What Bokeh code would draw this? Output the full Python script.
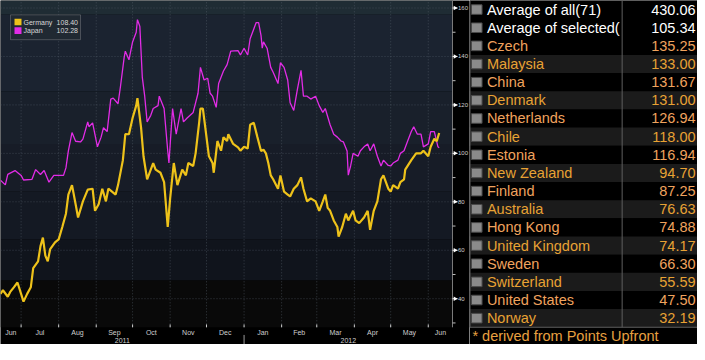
import math
import pandas as pd
from bokeh.plotting import figure
from bokeh.models import Range1d, BoxAnnotation, Label, ColumnDataSource
from bokeh.layouts import row
from bokeh.embed import file_html
from bokeh.resources import INLINE
from bokeh.core.properties import value

# ---------------- data ----------------
germany_dates = ["2011-06-14","2011-06-16","2011-06-20","2011-06-22","2011-06-25","2011-06-28","2011-07-01","2011-07-03","2011-07-06","2011-07-09",
                 "2011-07-11","2011-07-15","2011-07-17","2011-07-19","2011-07-21","2011-07-23","2011-07-25","2011-07-29","2011-08-01","2011-08-04",
                 "2011-08-07","2011-08-09","2011-08-12","2011-08-15","2011-08-17","2011-08-21","2011-08-25","2011-08-29","2011-08-31","2011-09-03",
                 "2011-09-06","2011-09-09","2011-09-11","2011-09-14","2011-09-17","2011-09-19","2011-09-23","2011-09-25","2011-09-28","2011-10-01",
                 "2011-10-04","2011-10-05","2011-10-08","2011-10-10","2011-10-13","2011-10-18","2011-10-20","2011-10-24","2011-10-27","2011-10-30",
                 "2011-11-01","2011-11-04","2011-11-07","2011-11-11","2011-11-14","2011-11-16","2011-11-20","2011-11-22","2011-11-25","2011-11-26",
                 "2011-11-28","2011-11-30","2011-12-03","2011-12-06","2011-12-07","2011-12-10","2011-12-13","2011-12-15","2011-12-18","2011-12-19",
                 "2011-12-23","2011-12-27","2011-12-29","2012-01-01","2012-01-04","2012-01-06","2012-01-09","2012-01-12","2012-01-15","2012-01-17",
                 "2012-01-19","2012-01-21","2012-01-23","2012-01-25","2012-01-29","2012-01-31","2012-02-03","2012-02-06","2012-02-08","2012-02-11",
                 "2012-02-14","2012-02-17","2012-02-19","2012-02-22","2012-02-25","2012-02-29","2012-03-03","2012-03-06","2012-03-08","2012-03-10",
                 "2012-03-12","2012-03-15","2012-03-18","2012-03-19","2012-03-22","2012-03-25","2012-03-27","2012-03-31","2012-04-02","2012-04-05",
                 "2012-04-09","2012-04-12","2012-04-14","2012-04-17","2012-04-20","2012-04-23","2012-04-25","2012-04-29","2012-05-01","2012-05-03",
                 "2012-05-07","2012-05-09","2012-05-12","2012-05-13","2012-05-18","2012-05-22","2012-05-26","2012-05-28","2012-06-01","2012-06-03",
                 "2012-06-06","2012-06-08","2012-06-10"]
germany_values = [42.0,43.5,40.8,42.8,44.7,46.7,42.0,38.8,42.0,44.7,
                  52.6,55.4,61.7,65.2,57.8,55.4,60.5,63.3,64.5,69.6,
                  75.1,83.0,86.9,79.0,73.5,80.2,85.0,85.4,76.3,79.0,
                  85.4,80.2,85.4,84.2,83.0,86.9,97.2,108.0,107.9,114.6,
                  119.7,122.8,110.6,98.8,89.3,96.0,93.3,92.0,88.1,69.6,
                  81.4,96.0,86.9,93.3,90.9,96.0,94.8,100.0,113.0,118.5,
                  118.5,110.6,98.8,96.0,92.0,105.1,101.1,106.7,105.1,107.9,
                  103.9,102.5,101.1,102.7,102.0,111.8,112.6,106.7,101.0,101.5,
                  100.0,96.0,90.9,89.3,85.4,90.9,84.2,83.0,82.2,85.4,
                  86.9,90.1,85.4,80.2,81.4,80.2,76.3,80.2,83.0,77.5,
                  76.3,72.3,69.6,65.6,69.6,75.1,72.3,76.3,72.3,71.2,
                  73.5,76.3,68.4,76.3,80.2,89.3,90.9,85.4,84.2,86.9,
                  85.4,88.1,89.3,93.3,97.2,100.0,100.0,101.1,98.8,102.7,
                  106.0,105.0,108.4]

japan_dates = ["2011-06-14","2011-06-18","2011-06-20","2011-06-26","2011-07-01","2011-07-03","2011-07-10","2011-07-13","2011-07-17","2011-07-20",
               "2011-07-24","2011-07-28","2011-08-05","2011-08-07","2011-08-09","2011-08-12","2011-08-15","2011-08-19","2011-08-21","2011-08-25",
               "2011-08-26","2011-08-29","2011-09-02","2011-09-05","2011-09-07","2011-09-10","2011-09-13","2011-09-15","2011-09-19","2011-09-21",
               "2011-09-24","2011-09-25","2011-09-28","2011-10-01","2011-10-04","2011-10-05","2011-10-07","2011-10-09","2011-10-11","2011-10-13",
               "2011-10-16","2011-10-18","2011-10-22","2011-10-23","2011-10-27","2011-10-30","2011-10-31","2011-11-03","2011-11-06","2011-11-10",
               "2011-11-12","2011-11-15","2011-11-20","2011-11-24","2011-11-26","2011-11-29","2011-12-02","2011-12-04","2011-12-06","2011-12-09",
               "2011-12-11","2011-12-15","2011-12-18","2011-12-21","2011-12-27","2011-12-29","2012-01-01","2012-01-04","2012-01-06","2012-01-11",
               "2012-01-13","2012-01-15","2012-01-16","2012-01-17","2012-01-20","2012-01-23","2012-01-25","2012-01-29","2012-01-31","2012-02-03",
               "2012-02-06","2012-02-08","2012-02-11","2012-02-14","2012-02-17","2012-02-19","2012-02-22","2012-02-25","2012-02-29","2012-03-03",
               "2012-03-06","2012-03-08","2012-03-12","2012-03-15","2012-03-18","2012-03-21","2012-03-23","2012-03-26","2012-03-27","2012-03-29",
               "2012-03-31","2012-04-04","2012-04-06","2012-04-09","2012-04-12","2012-04-14","2012-04-17","2012-04-20","2012-04-23","2012-04-25",
               "2012-04-29","2012-05-01","2012-05-03","2012-05-07","2012-05-09","2012-05-12","2012-05-15","2012-05-18","2012-05-20","2012-05-23",
               "2012-05-26","2012-05-28","2012-06-01","2012-06-03","2012-06-06","2012-06-09","2012-06-10"]
japan_values = [88.9,87.0,91.3,92.9,90.9,89.0,89.3,93.3,91.3,92.9,
                88.1,90.9,90.9,94.0,101.0,108.6,105.0,104.7,105.9,113.0,
                111.0,112.6,102.7,106.7,110.6,109.0,122.4,122.8,120.5,127.6,
                139.4,142.2,138.6,146.0,150.0,155.2,152.4,131.5,123.6,113.0,
                115.7,118.5,119.7,123.6,118.5,101.1,96.0,118.5,107.9,118.5,
                113.0,114.6,116.9,124.8,135.5,130.3,131.0,124.8,123.6,119.0,
                128.8,134.0,136.6,142.2,142.4,140.6,143.4,140.6,147.3,154.0,
                154.0,148.6,143.4,146.0,143.4,135.5,133.5,128.8,137.4,135.5,
                130.3,120.9,117.7,126.4,134.3,123.6,123.6,122.4,123.6,119.7,
                116.9,118.5,111.8,107.9,106.7,105.1,104.7,101.0,91.0,95.0,
                100.0,98.8,101.1,102.7,103.9,101.1,103.9,98.8,94.8,97.2,
                95.0,94.8,96.0,97.2,100.0,101.1,105.1,109.0,111.0,107.9,
                107.9,102.7,103.9,109.0,109.0,102.7,102.28]

series_names = ["Germany", "Japan"]
legend_values = [108.40, 102.28]

month_labels = ["Jun", "Jul", "Aug", "Sep", "Oct", "Nov", "Dec", "Jan", "Feb", "Mar", "Apr", "May", "Jun"]
year_labels = ["2011", "2012"]
y_major_ticks = [40, 60, 80, 100, 120, 140, 160]
y_minor_ticks = [30, 50, 70, 90, 110, 130, 150]

table_names = ["Average of all(71)", "Average of selected(", "Czech", "Malaysia", "China", "Denmark",
               "Netherlands", "Chile", "Estonia", "New Zealand", "Finland", "Australia", "Hong Kong",
               "United Kingdom", "Sweden", "Switzerland", "United States", "Norway"]
table_values = [430.06, 105.34, 135.25, 133.00, 131.67, 131.00, 126.94, 118.00, 116.94, 94.70,
                87.25, 76.63, 74.88, 74.17, 66.30, 55.59, 47.50, 32.19]
footnote = "* derived from Points Upfront"

# ---------------- layout helpers ----------------
W1, W2, H = 469, 228, 344
FONT = "Liberation Sans"
x_start = pd.Timestamp("2011-06-14")
x_end = pd.Timestamp("2012-06-21")
Y0, Y1 = 28.2, 163.1          # value range of the plotting area
GER_C, JPN_C = "#eec21a", "#e22ce6"


def xv(px):  # reference pixel (from left) -> x data
    return x_start + (x_end - x_start) * (px / 452.0)


def yv(px):  # reference pixel (from top) -> y data
    return Y1 - px / 342.0 * (Y1 - Y0)


p = figure(width=W1, height=H, x_range=Range1d(x_start, xv(469)), y_range=Range1d(yv(360), Y1),
           x_axis_type="datetime", x_axis_location=None, y_axis_location=None,
           output_backend="svg", toolbar_location=None, min_border=0)
p.background_fill_color = "#000000"
p.border_fill_color = "#000000"
p.outline_line_color = None
p.grid.visible = False

# background gradient bands of the plotting area
bands = [(157.2, Y1, "#1f2c34"), (125.6, 157.2, "#1b2330"), (103.9, 125.6, "#19202b"),
         (84.2, 103.9, "#171c27"), (64.5, 84.2, "#141923"), (47.5, 64.5, "#10141c"), (Y0, 47.5, "#090909")]
for b, t_, c in bands:
    p.add_layout(BoxAnnotation(left=x_start, right=x_end, bottom=b, top=t_, fill_color=c,
                               fill_alpha=1.0, line_color=None, level="underlay"))

month_starts = list(pd.date_range("2011-07-01", "2012-06-01", freq="MS"))
edges = [x_start] + month_starts + [x_end]
mids = [edges[i] + (edges[i + 1] - edges[i]) / 2 for i in range(len(edges) - 1)]

# grid lines
p.segment(x0=month_starts, y0=[Y0] * len(month_starts), x1=month_starts, y1=[Y1] * len(month_starts),
          line_color="#5a6470", line_alpha=0.55, line_dash="1 2", line_width=1)
p.segment(x0=[x_start] * len(y_major_ticks), y0=y_major_ticks, x1=[x_end] * len(y_major_ticks), y1=y_major_ticks,
          line_color="#5a6470", line_alpha=0.55, line_dash="1 2", line_width=1)

# series
p.line(pd.to_datetime(japan_dates), japan_values, line_color=JPN_C, line_width=1.3)
p.line(pd.to_datetime(germany_dates), germany_values, line_color=GER_C, line_width=2.2)

# right value axis
p.segment(x0=[x_end], y0=[Y0], x1=[x_end], y1=[Y1], line_color="#7a7a7a", line_width=1)
p.segment(x0=[x_end] * len(y_minor_ticks), y0=y_minor_ticks, x1=[xv(455)] * len(y_minor_ticks), y1=y_minor_ticks,
          line_color="#bbbbbb", line_width=1)
p.segment(x0=[x_end] * len(y_major_ticks), y0=y_major_ticks, x1=[xv(457)] * len(y_major_ticks), y1=y_major_ticks,
          line_color="#e8e8e8", line_width=1)
p.scatter(x=[xv(454.5)] * len(y_major_ticks), y=y_major_ticks, marker="triangle", size=4.5, angle=-math.pi / 2,
          fill_color="#ffffff", line_color=None)
p.text(x=[xv(457.5)] * len(y_major_ticks), y=y_major_ticks, text=[str(v) for v in y_major_ticks],
       text_font=value(FONT), text_font_size="6px", text_color="#cfcfcf", text_baseline="middle")

# time axis
p.segment(x0=month_starts, y0=[Y0] * len(month_starts), x1=month_starts, y1=[yv(339)] * len(month_starts),
          line_color="#cfcfcf", line_width=1)
p.text(x=mids, y=[yv(347.5)] * len(mids), text=month_labels, text_font=value(FONT), text_font_size="7px",
       text_color="#cfcfcf", text_baseline="middle", text_align="center")
jan1 = pd.Timestamp("2012-01-01")
year_mids = [x_start + (jan1 - x_start) / 2, jan1 + (x_end - jan1) / 2]
p.text(x=year_mids, y=[yv(355.5)] * 2, text=year_labels, text_font=value(FONT), text_font_size="7px",
       text_color="#cfcfcf", text_baseline="middle", text_align="center")
p.segment(x0=[jan1], y0=[yv(350)], x1=[jan1], y1=[yv(360)], line_color="#9a9a9a", line_width=1)

# legend
p.add_layout(BoxAnnotation(left=xv(10), right=xv(80), top=yv(15), bottom=yv(41),
                           fill_color="#202932", fill_alpha=1.0, line_color="#b5b5b5", line_width=1))
for i, (nm, val, col) in enumerate(zip(series_names, legend_values, [GER_C, JPN_C])):
    top = 19 + 9 * i
    p.add_layout(BoxAnnotation(left=xv(14), right=xv(21), top=yv(top), bottom=yv(top + 7),
                               fill_color=col, fill_alpha=1.0, line_color=None))
    p.add_layout(Label(x=xv(23), y=yv(top + 3.5), text=nm, text_font=FONT, text_font_size="7px",
                       text_color="#d8d8d8", text_baseline="middle"))
    p.add_layout(Label(x=xv(77.5), y=yv(top + 3.5), text=f"{val:.2f}", text_font=FONT, text_font_size="7px",
                       text_color="#d8d8d8", text_baseline="middle", text_align="right"))

# ---------------- table ----------------
n = len(table_names)
t = figure(width=W2, height=H, x_range=Range1d(3, 239), y_range=Range1d(18.45, -0.5),
           output_backend="svg", toolbar_location=None, x_axis_location=None, y_axis_location=None,
           min_border=0)
t.background_fill_color = "#000000"
t.border_fill_color = "#000000"
t.outline_line_color = None
t.grid.visible = False

rows = list(range(n))
row_bg = ["#1b1b1b" if (i % 2 == 1 and i >= 2) else "#000000" for i in rows]
name_col = ["#ffffff" if i < 2 else ("#e8a234" if i % 2 == 1 else "#f0a35e") for i in rows]
src = ColumnDataSource(dict(y=rows, name=table_names, val=[f"{v:.2f}" for v in table_values],
                            bg=row_bg, col=name_col))
t.rect(x=121, y="y", width=236, height=1, fill_color="bg", line_color=None, source=src)
t.rect(x=10.5, y="y", width=11, height=10 / 19, fill_color="#8a8a8a", line_color="#4a4a4a", source=src)
t.text(x=21, y="y", text="name", text_color="col", text_font=value(FONT), text_font_size="14.5px",
       text_baseline="middle", source=src)
t.text(x=237, y="y", text="val", text_color="col", text_font=value(FONT), text_font_size="14.5px",
       text_baseline="middle", text_align="right", source=src)
t.segment(x0=[161, 3.5], y0=[-0.5, -0.5], x1=[161, 3.5], y1=[n - 0.5, n - 0.5], line_color="#5f5f5f", line_width=1)
t.segment(x0=[3.5], y0=[n - 0.5], x1=[239], y1=[n - 0.5], line_color="#5f5f5f", line_width=1)
t.text(x=[6], y=[n - 0.5 + 9.5 / 19], text=[footnote], text_color="#e8a040", text_font=value(FONT),
       text_font_size="14.5px", text_baseline="middle")

layout = row(p, t)
open("out.html", "w").write(file_html(layout, INLINE))
